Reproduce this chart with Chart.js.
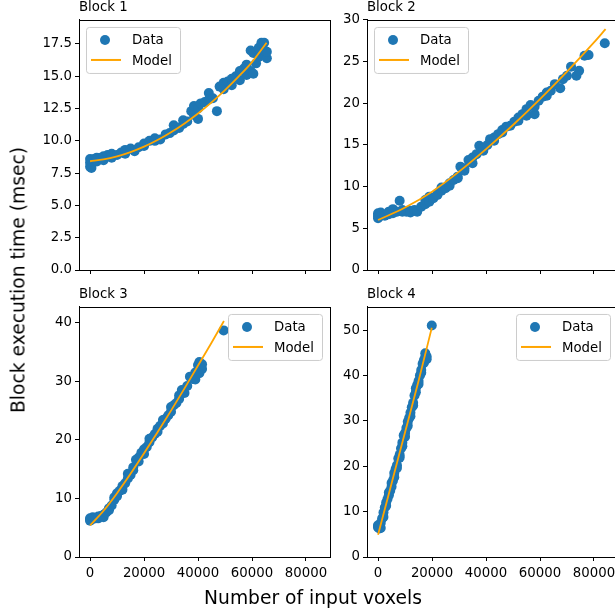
<!DOCTYPE html>
<html>
<head>
<meta charset="utf-8">
<script src="https://cdn.jsdelivr.net/npm/chart.js@4.4.0/dist/chart.umd.min.js"></script>
<style>
html, body { margin: 0; padding: 0; overflow: hidden; background: #fff; }
#page { position: relative; width: 615px; height: 613px; overflow: hidden; }
canvas { position: absolute; }
.lbl { position: absolute; font-family: "DejaVu Sans"; font-size: 18.7px; color: #000; white-space: nowrap; }
</style>
</head>
<body>
<div id="page">
<canvas id="b1" width="340" height="290" style="left:0px;top:0px"></canvas>
<canvas id="b2" width="303" height="290" style="left:320px;top:0px"></canvas>
<canvas id="b3" width="340" height="300" style="left:0px;top:287px"></canvas>
<canvas id="b4" width="303" height="300" style="left:320px;top:287px"></canvas>
<div class="lbl" id="ylab" style="left:18px;top:280px;transform:translate(-50%,-50%) rotate(-90deg)">Block execution time (msec)</div>
<div class="lbl" id="xlab" style="left:313px;top:597px;transform:translate(-50%,-50%)">Number of input voxels</div>
</div>
<script>
// measured points [voxels, msec]
var block1 = [[0,8.0],[0,8.3],[0,8.6],[500,8.5],[500,7.9],[1500,8.6],[2500,8.4],[2500,8.7],[4000,8.7],[5000,8.5],[5000,8.8],[6500,8.9],[8000,8.7],[8000,9.0],[10000,8.9],[11500,9.1],[13000,9.0],[13000,9.3],[15000,9.4],[16500,9.2],[18000,9.5],[20000,9.6],[20000,9.8],[22000,10.0],[24000,10.2],[24000,10.0],[26000,10.1],[28000,10.5],[29500,10.6],[31000,11.2],[31000,10.8],[33000,11.0],[34500,11.6],[34500,11.3],[36000,11.5],[37500,12.3],[38500,12.7],[38500,12.0],[40000,11.7],[40000,12.5],[41000,12.9],[42500,13.0],[44000,13.7],[44000,13.2],[45500,13.3],[47000,12.3],[48000,14.2],[49500,14.5],[49500,14.0],[51000,14.6],[52500,14.8],[52500,14.3],[54000,15.0],[55500,15.4],[55500,14.7],[57000,15.6],[58000,15.9],[58000,15.1],[59500,17.0],[59500,15.4],[60500,15.2],[60500,16.8],[61500,16.0],[62500,16.5],[62500,17.2],[63500,17.6],[64500,17.0],[64500,17.6],[65500,16.4],[65500,16.9]];
var block2 = [[0,6.2],[0,6.6],[0,6.8],[0,6.4],[1000,6.5],[1000,6.9],[2500,6.5],[4000,6.7],[4000,7.0],[5500,6.8],[5500,7.3],[7000,7.0],[8000,8.3],[9000,7.0],[9000,7.2],[10500,7.0],[12000,7.1],[12000,6.9],[13500,7.2],[14500,7.0],[16000,7.6],[17500,7.9],[17500,8.4],[19000,8.2],[19000,8.8],[20500,8.6],[22000,9.2],[22000,9.0],[23500,9.5],[23500,9.9],[25000,9.8],[26500,10.4],[26500,10.1],[28000,10.8],[29500,11.2],[29500,11.0],[30500,12.4],[32000,11.9],[32000,12.2],[33500,13.2],[35000,12.8],[35000,13.5],[36500,13.9],[37500,14.9],[39000,14.6],[39000,14.3],[40500,15.0],[41500,15.7],[43000,15.9],[43000,15.5],[44500,16.3],[46000,16.8],[46000,16.5],[47500,17.2],[49000,17.3],[50500,17.8],[52000,18.3],[52000,17.9],[53500,18.7],[55000,19.3],[55000,18.5],[56500,19.8],[58000,18.7],[58000,19.6],[59500,20.3],[61000,20.8],[62500,21.3],[62500,20.9],[64000,21.5],[65500,22.3],[67500,21.8],[68500,22.9],[70000,23.3],[71500,24.4],[73500,23.3],[74500,23.9],[76500,25.7],[78000,25.8],[84000,27.2]];
var block3 = [[0,6.2],[0,6.6],[0,6.4],[1000,6.5],[1000,6.8],[2000,6.6],[3000,6.9],[3000,6.6],[4000,7.0],[5000,7.2],[5000,6.8],[6000,7.6],[7000,8.3],[7000,8.0],[8000,8.8],[9000,9.8],[9000,10.2],[10000,10.4],[10000,10.9],[11000,11.3],[12000,11.5],[12000,12.1],[13000,12.6],[14000,14.2],[14000,13.4],[15000,14.0],[16000,14.8],[16000,15.3],[17000,16.6],[18000,16.3],[18000,17.0],[19000,17.8],[20000,17.6],[20000,18.4],[21000,18.8],[22000,20.2],[22000,19.6],[23000,20.4],[24000,21.0],[25000,21.9],[25000,21.4],[26000,22.4],[27000,23.4],[27000,22.8],[28000,23.6],[29000,24.2],[30000,25.6],[30000,24.8],[31000,25.9],[32000,26.3],[33000,27.0],[33000,27.6],[34000,28.5],[35000,28.0],[36000,29.2],[37000,30.8],[38000,30.4],[39000,31.5],[39000,30.3],[40000,32.8],[40500,33.3],[40500,31.4],[41500,32.1],[41500,32.9],[49500,38.7]];
var block4 = [[0,6.5],[0,7.0],[0,6.8],[500,6.3],[1000,6.4],[1000,7.5],[1500,8.5],[2000,9.8],[2000,8.8],[2500,10.9],[3000,12.0],[3000,11.3],[3500,12.8],[4000,14.2],[4000,13.6],[4500,14.6],[5000,16.3],[5000,15.5],[5500,16.8],[6000,18.5],[6000,17.6],[6500,19.4],[7000,20.2],[7000,19.6],[7500,21.7],[8000,22.5],[8000,21.9],[8500,23.9],[9000,25.2],[9000,24.4],[9500,26.8],[10000,27.3],[10000,26.5],[10500,28.4],[11000,29.8],[11000,28.9],[11500,30.6],[12000,31.8],[12000,31.0],[12500,33.0],[13000,34.0],[13000,33.4],[13500,35.6],[14000,37.2],[14000,36.3],[14500,37.9],[15000,38.8],[15000,38.1],[15500,40.0],[16000,41.2],[16000,40.6],[16500,42.6],[17000,43.4],[17000,42.8],[17500,44.9],[17500,44.1],[18000,44.2],[18000,43.6],[19900,51.0]];

// fitted model curves
var model1 = [[0,8.42],[5000,8.56],[10000,8.80],[15000,9.13],[20000,9.55],[25000,10.06],[30000,10.66],[35000,11.35],[40000,12.12],[45000,12.98],[50000,13.93],[55000,14.97],[60000,16.10],[65400,17.60]];
var model2 = [[0,6.0],[10000,7.5],[20000,9.4],[30000,11.8],[40000,14.5],[50000,17.4],[60000,20.5],[70000,23.8],[80000,27.3],[84300,28.9]];
var model3 = [[0,5.4],[5000,7.9],[10000,10.9],[15000,14.2],[20000,17.7],[25000,21.3],[30000,25.0],[35000,28.8],[40000,32.7],[45000,36.6],[49600,40.3]];
var model4 = [[0,4.9],[5000,16.2],[10000,27.5],[15000,38.8],[19900,50.5]];

var titles = ["Block 1", "Block 2", "Block 3", "Block 4"];
var yMax = [19.36, 30.0, 42.7, 55.1];
var yStep = [2.5, 5, 10, 10];
var xTicks = [0, 20000, 40000, 60000, 80000];
var xMin = -4100, xMax = 88900;

var font = "DejaVu Sans";

function toPts(arr) {
  return arr.map(function (p) { return { x: p[0], y: p[1] }; });
}

// box round the plot + matplotlib style legend
var framePlugin = {
  id: "frame",
  afterDraw: function (chart, args, opts) {
    var ctx = chart.ctx, a = chart.chartArea;
    ctx.save();
    ctx.strokeStyle = "#000";
    ctx.lineWidth = 1;
    ctx.strokeRect(Math.round(a.left) + 0.5, Math.round(a.top) + 0.5, Math.round(a.right - a.left), Math.round(a.bottom - a.top));

    var w = 94, h = 46;
    var bx = opts.pos === "right" ? a.right - 8 - w : a.left + 7;
    var by = a.top + 7;
    ctx.beginPath();
    ctx.roundRect(bx + 0.5, by + 0.5, w, h, 3);
    ctx.fillStyle = "rgba(255,255,255,0.8)";
    ctx.fill();
    ctx.strokeStyle = "#cccccc";
    ctx.stroke();

    var ds = chart.data.datasets;
    var data = ds[1], model = ds[0];
    ctx.fillStyle = data.backgroundColor;
    ctx.beginPath();
    ctx.arc(bx + 19, by + 13, 5, 0, Math.PI * 2);
    ctx.fill();
    ctx.strokeStyle = model.borderColor;
    ctx.lineWidth = 2;
    ctx.beginPath();
    ctx.moveTo(bx + 5, by + 33);
    ctx.lineTo(bx + 35, by + 33);
    ctx.stroke();

    ctx.fillStyle = "#000";
    ctx.font = "13.3px '" + font + "'";
    ctx.textBaseline = "alphabetic";
    ctx.textAlign = "left";
    ctx.fillText(data.label, bx + 46, by + 17.5);
    ctx.fillText(model.label, bx + 46, by + 38);
    ctx.restore();
  }
};

function makeChart(id, i, points, model, opt) {
  var ctx = document.getElementById(id).getContext("2d");
  return new Chart(ctx, {
    type: "scatter",
    data: {
      datasets: [
        {
          type: "line",
          label: "Model",
          data: toPts(model),
          borderColor: "#ffa500",
          borderWidth: 1.8,
          pointRadius: 0,
          fill: false,
          cubicInterpolationMode: "monotone",
          order: 0
        },
        {
          label: "Data",
          data: toPts(points),
          backgroundColor: "#1f77b4",
          borderWidth: 0,
          pointRadius: 5,
          pointHoverRadius: 5,
          order: 1
        }
      ]
    },
    options: {
      responsive: false,
      animation: false,
      devicePixelRatio: 1,
      layout: { padding: { left: 0, right: opt.padRight, top: 0, bottom: 0 } },
      plugins: {
        legend: { display: false },
        tooltip: { enabled: false },
        title: {
          display: true,
          text: titles[i],
          align: "start",
          fullSize: false,
          color: "#000",
          font: { family: font, size: 13.3, weight: "normal" },
          padding: { top: 0, bottom: 4 }
        },
        frame: { pos: opt.legend }
      },
      scales: {
        x: {
          type: "linear",
          min: xMin,
          max: xMax,
          border: { display: true, color: "#000", width: 1 },
          grid: { display: true, drawOnChartArea: false, drawTicks: true, tickLength: 4, color: "#000" },
          afterBuildTicks: function (s) {
            s.ticks = xTicks.map(function (v) { return { value: v }; });
          },
          ticks: {
            display: opt.xLabels,
            maxRotation: 0,
            autoSkip: false,
            padding: 5,
            color: "#000",
            font: { family: font, size: 13.3 },
            callback: function (v) { return String(v); }
          },
          afterFit: function (s) {
            s.height = opt.xH;
            s.paddingLeft = 0;
            s.paddingRight = 0;
          }
        },
        y: {
          type: "linear",
          min: 0,
          max: yMax[i],
          border: { display: true, color: "#000", width: 1 },
          grid: { display: true, drawOnChartArea: false, drawTicks: true, tickLength: 4, color: "#000" },
          ticks: {
            stepSize: yStep[i],
            includeBounds: false,
            autoSkip: false,
            padding: 3,
            color: "#000",
            font: { family: font, size: 13.3 },
            callback: function (v) { return yStep[i] < 5 ? v.toFixed(1) : String(v); }
          },
          afterFit: function (s) {
            s.width = opt.yW;
            s.paddingTop = 0;
            s.paddingBottom = 0;
          }
        }
      }
    },
    plugins: [framePlugin]
  });
}

makeChart("b1", 0, block1, model1, { padRight: 10, xH: 20, yW: 79, xLabels: false, legend: "left" });
makeChart("b2", 1, block2, model2, { padRight: 0, xH: 20, yW: 47, xLabels: false, legend: "left" });
makeChart("b3", 2, block3, model3, { padRight: 10, xH: 30, yW: 79, xLabels: true, legend: "right" });
makeChart("b4", 3, block4, model4, { padRight: 0, xH: 30, yW: 47, xLabels: true, legend: "right" });
</script>
</body>
</html>
